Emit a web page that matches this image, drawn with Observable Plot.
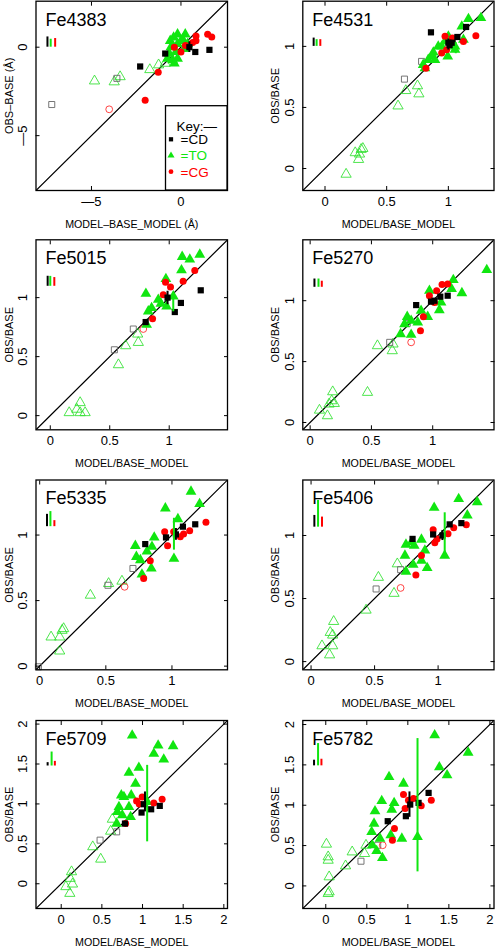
<!DOCTYPE html>
<html><head><meta charset="utf-8">
<script src="https://cdn.jsdelivr.net/npm/d3@7"></script>
<script src="https://cdn.jsdelivr.net/npm/@observablehq/plot@0.6"></script>
<style>
html,body{margin:0;padding:0;background:#fff;}
#wrap{position:relative;width:496px;height:949px;overflow:hidden;font-family:"Liberation Sans",Arial,sans-serif;}
#wrap svg{position:absolute;}
</style></head><body><div id="wrap"></div>
<script>
// ---- DATA: [x (model/base_model), y (obs/base), group] ----
// CD/TO/CG = filled symbols; cd/to/cg = open symbols
const fe4383 = [
  [-0.88,-0.36,"CD"],[-2.28,-1.09,"CD"],[0.47,0.0,"CD"],[0.80,-0.27,"CD"],[1.59,-0.15,"CD"],
  [-7.22,-3.24,"cd"],[-3.58,-1.76,"cd"],
  [-2.0,-3.0,"CG"],[-1.27,-1.42,"CG"],[-0.37,0.0,"CG"],[0.84,0.64,"CG"],[1.49,0.73,"CG"],[1.72,0.58,"CG"],[0.0,-0.27,"CG"],[0.65,0.27,"CG"],[0.84,0.36,"CG"],[0.25,0.1,"CG"],
  [-4.01,-3.51,"cg"],
  [-4.83,-1.91,"to"],[-3.73,-1.96,"to"],[-3.40,-1.67,"to"],[-1.74,-1.27,"to"],[-1.25,-1.0,"to"],[-0.88,-0.91,"to"],
  [-0.19,0.73,"TO"],[0.24,0.73,"TO"],[0.09,0.45,"TO"],[-0.56,0.0,"TO"],[-0.65,-0.36,"TO"],[-0.47,-0.73,"TO"],[-0.37,-0.91,"TO"],[-0.19,-0.64,"TO"],[-0.75,-0.64,"TO"],[-0.28,-0.27,"TO"],[0.0,0.36,"TO"],[0.37,0.18,"TO"],[-0.19,0.18,"TO"],[0.19,-0.09,"TO"],[-0.6,0.36,"TO"],[-0.41,0.55,"TO"]
];
const fe4531 = [
  [0.859,1.115,"CD"],[1.0,1.03,"CD"],[1.073,1.077,"CD"],[1.144,1.159,"CD"],[1.033,1.03,"CD"],[1.01,1.01,"CD"],
  [0.644,0.732,"cd"],[0.783,0.877,"cd"],
  [1.223,1.088,"CG"],[1.122,1.041,"CG"],[0.973,1.082,"CG"],[0.986,0.973,"CG"],[0.946,0.945,"CG"],[0.818,0.822,"CG"],[1.033,1.068,"CG"],
  [1.163,1.225,"TO"],[1.264,1.233,"TO"],[1.109,1.164,"TO"],[1.122,1.055,"TO"],[1.054,1.0,"TO"],[1.0,1.082,"TO"],[0.973,1.041,"TO"],[0.918,1.0,"TO"],[0.995,0.918,"TO"],[0.878,0.951,"TO"],[0.864,0.918,"TO"],[0.837,0.89,"TO"],[0.796,0.849,"TO"],[0.81,0.822,"TO"],[1.054,0.973,"TO"],[0.946,1.0,"TO"],[0.891,0.89,"TO"],
  [0.171,-0.047,"to"],[0.245,0.129,"to"],[0.28,0.118,"to"],[0.293,0.156,"to"],[0.307,0.164,"to"],[0.272,0.074,"to"],[0.592,0.512,"to"],[0.655,0.638,"to"],[0.75,0.677,"to"],[0.761,0.611,"to"]
];
const fe5015 = [
  [0.802,0.793,"CD"],[0.986,1.0,"CD"],[1.047,0.878,"CD"],[1.098,0.955,"CD"],[1.265,1.062,"CD"],
  [0.539,0.558,"cd"],[0.698,0.734,"cd"],
  [0.86,0.822,"CG"],[0.969,1.13,"CG"],[1.011,1.091,"CG"],[1.117,1.139,"CG"],[1.215,1.229,"CG"],[0.95,1.025,"CG"],
  [0.782,0.734,"cg"],
  [1.257,1.365,"TO"],[1.109,1.346,"TO"],[1.173,1.323,"TO"],[1.103,1.232,"TO"],[0.972,1.159,"TO"],[0.804,1.034,"TO"],[0.908,0.983,"TO"],[0.852,0.912,"TO"],[0.978,0.926,"TO"],[1.034,1.011,"TO"],[0.824,0.884,"TO"],[0.81,0.771,"TO"],[0.93,0.95,"TO"],
  [0.159,0.025,"to"],[0.251,0.11,"to"],[0.223,0.054,"to"],[0.251,0.025,"to"],[0.293,0.025,"to"],[0.573,0.431,"to"],[0.634,0.592,"to"],[0.74,0.62,"to"],[0.735,0.691,"to"]
];
const fe5270 = [
  [0.865,0.964,"CD"],[0.986,0.992,"CD"],[1.062,1.033,"CD"],[1.122,1.041,"CD"],[1.014,1.0,"CD"],
  [0.649,0.658,"cd"],[0.792,0.814,"cd"],
  [0.9,0.753,"CG"],[0.924,0.868,"CG"],[1.076,1.132,"CG"],[1.032,1.082,"CG"],[0.973,1.041,"CG"],[1.014,0.986,"CG"],[1.122,1.137,"CG"],
  [0.824,0.658,"cg"],
  [1.441,1.252,"TO"],[1.238,1.063,"TO"],[1.168,1.17,"TO"],[1.154,1.096,"TO"],[0.973,1.082,"TO"],[0.959,0.868,"TO"],[1.054,0.923,"TO"],[0.905,0.918,"TO"],[0.792,0.868,"TO"],[0.824,0.836,"TO"],[0.77,0.808,"TO"],[0.738,0.726,"TO"],[0.824,0.721,"TO"],[0.878,0.822,"TO"],[1.068,0.986,"TO"],
  [0.076,0.101,"to"],[0.141,0.055,"to"],[0.176,0.178,"to"],[0.184,0.252,"to"],[0.154,0.151,"to"],[0.197,0.156,"to"],[0.468,0.247,"to"],[0.549,0.63,"to"],[0.67,0.589,"to"],[0.676,0.644,"to"]
];
const fe5335 = [
  [0.798,0.931,"CD"],[0.955,0.982,"CD"],[1.03,1.005,"CD"],[1.083,1.064,"CD"],[1.176,1.082,"CD"],
  [0.516,0.617,"cd"],[0.705,0.745,"cd"],[-0.01,-0.005,"cd"],
  [0.786,0.668,"CG"],[0.836,0.804,"CG"],[0.967,0.918,"CG"],[0.945,1.026,"CG"],[1.063,0.987,"CG"],[1.088,1.008,"CG"],[1.134,1.033,"CG"],[1.257,1.097,"CG"],[1.013,1.026,"CG"],
  [0.642,0.605,"cg"],
  [1.144,1.332,"TO"],[1.209,1.237,"TO"],[0.95,1.204,"TO"],[1.045,1.122,"TO"],[0.723,0.918,"TO"],[0.866,0.982,"TO"],[0.849,0.911,"TO"],[0.731,0.834,"TO"],[0.761,0.809,"TO"],[0.844,0.745,"TO"],[0.773,0.699,"TO"],[1.015,0.82,"TO"],[0.811,0.875,"TO"],
  [0.086,0.222,"to"],[0.151,0.222,"to"],[0.169,0.273,"to"],[0.181,0.286,"to"],[0.151,0.115,"to"],[0.383,0.541,"to"],[0.521,0.63,"to"],[0.622,0.648,"to"]
];
const fe5406 = [
  [0.799,0.973,"CD"],[0.961,1.008,"CD"],[1.034,1.0,"CD"],[1.091,1.088,"CD"],[1.183,1.098,"CD"],
  [0.512,0.576,"cd"],[0.705,0.729,"cd"],
  [0.825,0.687,"CG"],[0.961,1.045,"CG"],[0.974,0.942,"CG"],[0.992,0.973,"CG"],[1.123,1.061,"CG"],[1.222,1.085,"CG"],[1.078,1.013,"CG"],[0.869,0.841,"CG"],
  [0.705,0.584,"cg"],
  [1.162,1.29,"TO"],[1.308,1.265,"TO"],[1.23,1.16,"TO"],[0.969,1.22,"TO"],[0.747,0.928,"TO"],[0.791,0.947,"TO"],[0.869,0.968,"TO"],[0.812,0.92,"TO"],[0.739,0.841,"TO"],[0.804,0.769,"TO"],[0.869,0.801,"TO"],[0.914,0.743,"TO"],[0.747,0.714,"TO"],[1.052,0.841,"TO"],[0.896,0.881,"TO"],
  [0.086,0.125,"to"],[0.146,0.053,"to"],[0.151,0.231,"to"],[0.17,0.21,"to"],[0.178,0.318,"to"],[0.17,0.125,"to"],[0.433,0.408,"to"],[0.53,0.668,"to"],[0.653,0.541,"to"],[0.679,0.775,"to"]
];
const fe5709 = [
  [0.784,0.754,"CD"],[0.988,0.892,"CD"],[1.016,0.996,"CD"],[1.106,0.933,"CD"],[1.212,0.975,"CD"],
  [0.478,0.546,"cd"],[0.682,0.65,"cd"],
  [0.792,0.754,"CG"],[0.927,1.038,"CG"],[0.996,1.088,"CG"],[1.139,1.013,"CG"],[1.241,1.058,"CG"],[0.96,1.0,"CG"],
  [0.873,1.858,"TO"],[1.192,1.733,"TO"],[1.376,1.725,"TO"],[1.139,1.629,"TO"],[1.261,1.558,"TO"],[0.955,1.454,"TO"],[0.833,1.392,"TO"],[0.914,1.254,"TO"],[0.739,1.108,"TO"],[0.861,1.108,"TO"],[0.771,1.088,"TO"],[0.71,0.963,"TO"],[0.833,0.963,"TO"],[0.69,0.9,"TO"],[0.751,0.858,"TO"],[0.682,0.754,"TO"],[0.853,0.838,"TO"],[1.057,1.025,"TO"],
  [0.486,0.308,"to"],[0.388,0.463,"to"],[0.629,0.808,"to"],[0.608,0.658,"to"],[0.127,0.15,"to"],[0.11,0.067,"to"],[0.139,-0.004,"to"],[0.057,-0.037,"to"],[0.106,-0.121,"to"]
];
const fe5782 = [
  [0.755,0.802,"CD"],[0.976,0.864,"CD"],[1.029,1.008,"CD"],[1.131,1.029,"CD"],[1.253,1.153,"CD"],
  [0.429,0.306,"cd"],[0.633,0.504,"cd"],
  [0.837,0.711,"CG"],[0.812,0.566,"CG"],[0.947,1.132,"CG"],[0.967,0.959,"CG"],[1.008,1.062,"CG"],[1.069,1.083,"CG"],[1.163,0.992,"CG"],[1.286,1.062,"CG"],
  [0.694,0.504,"cg"],
  [1.327,1.868,"TO"],[1.735,1.653,"TO"],[1.384,1.471,"TO"],[1.478,1.372,"TO"],[0.771,1.351,"TO"],[0.947,1.269,"TO"],[0.682,1.054,"TO"],[0.833,1.029,"TO"],[0.6,0.926,"TO"],[0.804,0.946,"TO"],[0.588,0.773,"TO"],[0.559,0.669,"TO"],[0.792,0.628,"TO"],[0.927,0.587,"TO"],[1.118,0.607,"TO"],[0.62,0.434,"TO"],[0.69,0.347,"TO"],[0.567,0.504,"TO"],[0.661,0.587,"TO"],
  [0.008,0.517,"to"],[0.029,0.36,"to"],[0.029,0.318,"to"],[0.041,0.112,"to"],[0.041,-0.074,"to"],[0.029,-0.095,"to"],[0.241,0.248,"to"],[0.322,0.421,"to"],[0.473,0.401,"to"],[0.49,0.504,"to"]
];
// error bars: [x, y1, y2, group]; first three of each are the typical-error bars beside the label
const fe4383_err = [[-7.46,0,0.58,"CD"],[-7.28,0,0.45,"TO"],[-7.03,0,0.49,"CG"],[0.47,-0.3,0.3,"CD"]];
const fe4531_err = [[-0.092,1.0,1.068,"CD"],[-0.068,1.0,1.055,"TO"],[-0.038,1.0,1.055,"CG"],[1.0,0.97,1.06,"CD"],[1.06,0.94,1.03,"TO"]];
const fe5015_err = [[-0.022,1.096,1.181,"CD"],[0.0,1.096,1.18,"TO"],[0.034,1.096,1.17,"CG"],[0.986,0.94,1.054,"CD"],[1.034,0.88,1.04,"TO"]];
const fe5270_err = [[0.035,1.11,1.178,"CD"],[0.068,1.11,1.178,"TO"],[0.095,1.11,1.16,"CG"]];
const fe5335_err = [[0.055,1.064,1.158,"CD"],[0.081,1.064,1.179,"TO"],[0.111,1.064,1.11,"CG"],[1.015,0.885,1.128,"TO"],[1.03,0.96,1.05,"CD"]];
const fe5406_err = [[0.026,1.066,1.159,"CD"],[0.055,1.066,1.278,"TO"],[0.086,1.066,1.146,"CG"],[1.052,0.846,1.18,"TO"],[1.034,0.96,1.04,"CD"]];
const fe5709_err = [[-0.167,1.475,1.517,"CD"],[-0.118,1.475,1.65,"TO"],[-0.078,1.475,1.533,"CG"],[1.057,0.525,1.483,"TO"],[1.03,0.9,1.15,"CD"]];
const fe5782_err = [[-0.143,1.488,1.558,"CD"],[-0.094,1.488,1.764,"TO"],[-0.053,1.488,1.57,"CG"],[1.118,0.174,1.826,"TO"],[1.02,0.85,1.165,"CD"]];

// axis ranges and ticks
const fe4383_domain = [-8.1, 2.6], ticksA = [-5, 0];
const fe4531_domain = [-0.18, 1.37];
const fe5015_domain = [-0.12, 1.49];
const fe5270_domain = [-0.06, 1.5];
const fe5335_domain = [-0.028, 1.42];
const fe5406_domain = [-0.065, 1.44];
const fe5709_domain = [-0.31, 2.045];
const fe5782_domain = [-0.28, 2.05];
const ticksB = [0, 0.5, 1];
const ticksC = [0, 0.5, 1, 1.5, 2];
const names = ["Fe4383","Fe4531","Fe5015","Fe5270","Fe5335","Fe5406","Fe5709","Fe5782"];
const yLabels = ["OBS\u2013BASE (\u00c5)","OBS/BASE","OBS/BASE","OBS/BASE","OBS/BASE","OBS/BASE","OBS/BASE","OBS/BASE"];
const xLabels = ["MODEL\u2013BASE_MODEL (\u00c5)","MODEL/BASE_MODEL","MODEL/BASE_MODEL","MODEL/BASE_MODEL","MODEL/BASE_MODEL","MODEL/BASE_MODEL","MODEL/BASE_MODEL","MODEL/BASE_MODEL"];
const keyLabels = [["CD","=CD"],["TO","=TO"],["CG","=CG"]];

// ---- LAYOUT ----
const datasets = [fe4383,fe4531,fe5015,fe5270,fe5335,fe5406,fe5709,fe5782];
const errs = [fe4383_err,fe4531_err,fe5015_err,fe5270_err,fe5335_err,fe5406_err,fe5709_err,fe5782_err];
const domains = [fe4383_domain,fe4531_domain,fe5015_domain,fe5270_domain,fe5335_domain,fe5406_domain,fe5709_domain,fe5782_domain];
const tickSets = [ticksA,ticksB,ticksB,ticksB,ticksB,ticksB,ticksC,ticksC];
const cols = [{left:0, ml:35.5, mr:21},{left:248, ml:54.3, mr:2.5}];
const rows = [{top:0,h:230,mt:0.7,mb:40},{top:230,h:235,mt:9.3,mb:35.7},{top:465,h:240,mt:14.5,mb:35.7},{top:705,h:244,mt:15,mb:41}];

const GREEN = "#10e610", RED = "#ff0000";
const col = {CD:"#000", TO:GREEN, CG:RED};
const fmt = d => d < 0 ? "\u2014" + (-d) : String(d);
const FONT = '"Liberation Sans", Arial, Helvetica, sans-serif';

const wrap = document.getElementById("wrap");
for (let i = 0; i < 8; i++) {
  const c = cols[i % 2], r = rows[Math.floor(i / 2)];
  const data = datasets[i], dom = domains[i], ticks = tickSets[i];
  const sel = g => data.filter(d => d[2] === g);
  const X = d => d[0], Y = d => d[1];
  const plot = Plot.plot({
    width: 248, height: r.h,
    marginLeft: c.ml, marginRight: c.mr, marginTop: r.mt, marginBottom: r.mb,
    x: {domain: dom, axis: null}, y: {domain: dom, axis: null},
    style: {fontFamily: FONT, background: "transparent", color: "#000", overflow: "visible"},
    marks: [
      Plot.line(dom.map(v => [v, v]), {x: X, y: Y, stroke: "#000", strokeWidth: 1.2, clip: true}),
      Plot.dot(sel("to"), {x: X, y: Y, symbol: "triangle", r: 3.8, stroke: "#2ee02e", strokeWidth: 0.85, fill: "none"}),
      Plot.dot(sel("cd"), {x: X, y: Y, symbol: "square", r: 3.4, stroke: "#666", strokeWidth: 0.9, fill: "none"}),
      Plot.dot(sel("cg"), {x: X, y: Y, symbol: "circle", r: 3.4, stroke: "#ff3030", strokeWidth: 0.9, fill: "none"}),
      Plot.dot(sel("TO"), {x: X, y: Y, symbol: "triangle", r: 4.0, fill: GREEN}),
      Plot.dot(sel("CG"), {x: X, y: Y, symbol: "circle", r: 3.5, fill: RED}),
      Plot.dot(sel("CD"), {x: X, y: Y, symbol: "square", r: 3.5, fill: "#000"}),
      Plot.ruleX(errs[i], {x: d => d[0], y1: d => d[1], y2: d => d[2], stroke: d => col[d[3]], strokeWidth: 2}),
      Plot.frame({stroke: "#000", strokeWidth: 1.3}),
      Plot.axisX(ticks, {anchor: "bottom", tickSize: -4, fill: "none", label: null}),
      Plot.axisX(ticks, {anchor: "top", tickSize: -4, fill: "none", label: null}),
      Plot.axisY(ticks, {anchor: "left", tickSize: -4, fill: "none", label: null}),
      Plot.axisY(ticks, {anchor: "right", tickSize: -4, fill: "none", label: null}),
      Plot.text(ticks, {x: d => d, text: fmt, frameAnchor: "bottom", dy: 11.5, fontSize: 13, lineAnchor: "middle"}),
      Plot.text(ticks, {y: d => d, text: fmt, frameAnchor: "left", dx: -13, rotate: -90, fontSize: 13, lineAnchor: "middle", textAnchor: "middle"}),
      Plot.text([names[i]], {text: d => d, frameAnchor: "top-left", dx: 9.5, dy: 11.6, fontSize: 18, textAnchor: "start", lineAnchor: "top"}),
      Plot.text([xLabels[i]], {text: d => d, frameAnchor: "bottom", dy: 33.7, fontSize: 10.7, lineAnchor: "middle"}),
      Plot.text([yLabels[i]], {text: d => d, frameAnchor: "left", dx: -27, rotate: -90, fontSize: 11, lineAnchor: "middle", textAnchor: "middle"})
    ]
  });
  plot.style.left = c.left + "px";
  plot.style.top = r.top + "px";
  wrap.appendChild(plot);

  if (i === 0) {
    // key box in the lower-right corner of the first panel
    const fr = 248 - c.mr, fb = r.h - r.mb;
    const g = d3.select(plot).append("g").attr("font-family", FONT).attr("text-anchor", "start");
    g.append("rect").attr("x", fr - 61.5).attr("y", fb - 84.3).attr("width", 61.5).attr("height", 84.3)
      .attr("fill", "#fff").attr("stroke", "#000").attr("stroke-width", 1.3);
    g.append("text").attr("x", fr - 50.5).attr("y", fb - 59).attr("font-size", 13.5).text("Key:\u2014");
    const sym = {CD: d3.symbolSquare, TO: d3.symbolTriangle, CG: d3.symbolCircle};
    keyLabels.forEach(([k, lab], j) => {
      const cy = fb - 50.7 + j * 16.2;
      g.append("path").attr("d", d3.symbol(sym[k], k === "TO" ? 22 : 18)()).attr("transform", `translate(${fr - 56},${cy})`).attr("fill", col[k]);
      g.append("text").attr("x", fr - 46.5).attr("y", cy).attr("dy", "0.36em").attr("font-size", 13.5).attr("fill", col[k]).text(lab);
    });
  }
}
</script></body></html>
